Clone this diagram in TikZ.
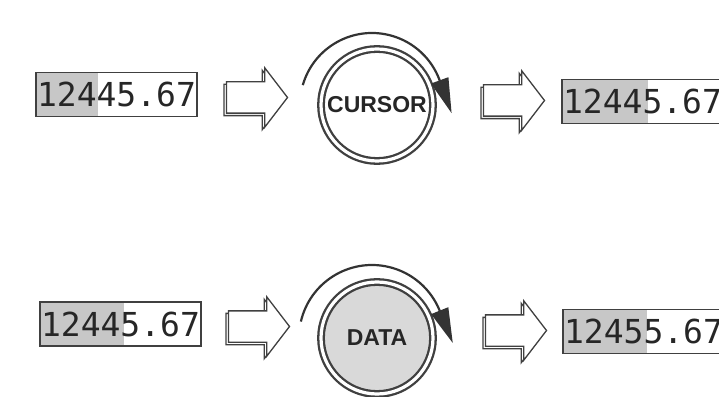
\documentclass[tikz,border=0pt]{standalone}
\usepackage{fontspec}
\setsansfont{Liberation Sans}
\setmonofont{DejaVu Sans Mono}
\usetikzlibrary{shapes.arrows, arrows.meta, shadows, backgrounds}
\tikzstyle{display} = [rectangle, minimum width=161pt, minimum height=44pt, inner sep=1pt, draw=black!75, line width=1.6pt, text=black!85, font=\ttfamily\fontsize{33}{36}\selectfont]
\tikzstyle{bigarrow} = [single arrow, draw=black!75, line width=1.3pt, fill=white, minimum height=61pt, inner xsep=0pt, inner ysep=15pt, single arrow head extend=14pt, single arrow tip angle=105, copy shadow={shadow xshift=-2.5pt, shadow yshift=-2.5pt, draw=black!75, fill=white, line width=1.3pt}]
\tikzstyle{knob} = [circle, minimum size=112pt, inner sep=0pt, draw=black!75, line width=2.3pt, double=white, double distance=3.2pt, fill=white, text=black!85, font=\sffamily\bfseries\fontsize{23}{26}\selectfont]
\tikzstyle{turn} = [black!80, line width=2.2pt, -{Triangle[length=35pt,width=18pt]}]
\tikzstyle{lit} = [fill=black!22]

\begin{document}
\begin{tikzpicture}[node distance=131pt]
    \useasboundingbox (0,0) rectangle (719pt,396pt);
    \clip (0,0) rectangle (719pt,396pt);

    % cursor knob
    \node (1) [display] at (116.5pt,301.5pt) {12445.67};
    \node (2) [bigarrow, right of=1, xshift=3.5pt, yshift=-3pt] {};
    \node (3) [knob, right of=2, xshift=-5pt, yshift=-7.5pt] {CURSOR};
    \node (4) [bigarrow, right of=3, yshift=4.5pt] {};
    \node (5) [display, right of=4, xshift=3.5pt, yshift=-1pt] {12445.67};

    % data knob
    \node (6) [display] at (120.5pt,72pt) {12445.67};
    \node (7) [bigarrow, right of=6, xshift=1.5pt, yshift=-2.5pt] {};
    \node (8) [knob, right of=7, xshift=-7pt, yshift=-11.5pt, fill=black!15] {DATA};
    \node (9) [bigarrow, right of=8, xshift=2pt, yshift=7.5pt] {};
    \node (10) [display, right of=9, xshift=2.5pt, yshift=-1pt] {12455.67};

    \draw [turn] ([xshift=-5pt]3.center) ++(164:72pt) arc [start angle=164, end angle=20, radius=72pt] -- ++(-70:35pt);
    \draw [turn] ([xshift=-5pt]8.center) ++(167:73pt) arc [start angle=167, end angle=22, radius=73pt] -- ++(-68:35pt);

    \begin{scope}[on background layer]
        \fill [lit] (1.south west) rectangle ([xshift=63pt]1.north west);
        \fill [lit] (5.south west) rectangle ([xshift=87pt]5.north west);
        \fill [lit] (6.south west) rectangle ([xshift=85pt]6.north west);
        \fill [lit] (10.south west) rectangle ([xshift=85pt]10.north west);
    \end{scope}
\end{tikzpicture}
\end{document}
